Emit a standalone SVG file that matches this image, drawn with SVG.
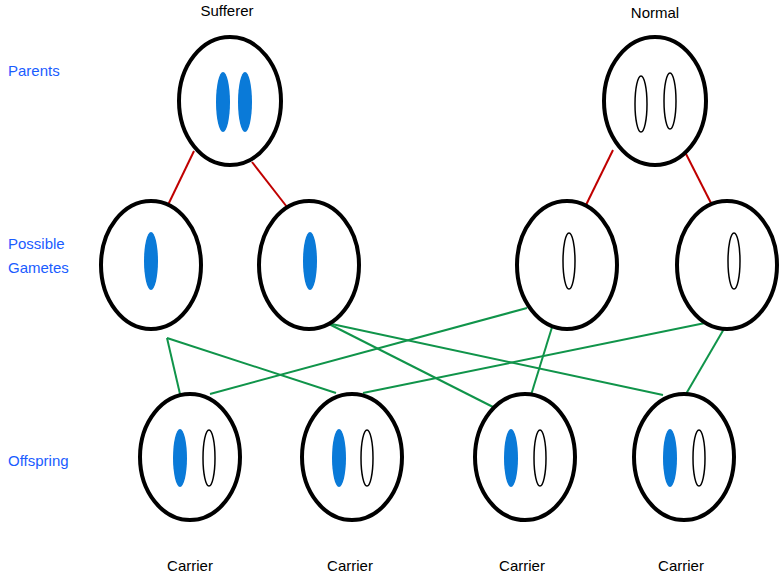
<svg xmlns="http://www.w3.org/2000/svg" width="781" height="577" viewBox="0 0 781 577">
<style>
.cell{fill:#fff;stroke:#000;stroke-width:4}
.b{fill:#0a7ad8;stroke:none}
.w{fill:#fff;stroke:#000;stroke-width:1.5}
.t{font-family:"Liberation Sans",sans-serif;font-size:15px;fill:#000}
.lab{font-family:"Liberation Sans",sans-serif;font-size:15px;fill:#1a5cff}
.red{stroke:#c00000;stroke-width:2}
.grn{stroke:#10944a;stroke-width:2}
</style>
<rect width="781" height="577" fill="#fff"/>
<g id="labels">
<text class="t" x="227" y="16" text-anchor="middle">Sufferer</text>
<text class="t" x="655" y="18" text-anchor="middle">Normal</text>
<text class="lab" x="8" y="76">Parents</text>
<text class="lab" x="8" y="249">Possible</text>
<text class="lab" x="8" y="273">Gametes</text>
<text class="lab" x="8" y="466">Offspring</text>
<text class="t" x="190" y="571" text-anchor="middle">Carrier</text>
<text class="t" x="350" y="571" text-anchor="middle">Carrier</text>
<text class="t" x="522" y="571" text-anchor="middle">Carrier</text>
<text class="t" x="681" y="571" text-anchor="middle">Carrier</text>
</g>
<g id="connectors">
<line class="red" x1="194" y1="151" x2="167" y2="207"/>
<line class="red" x1="252" y1="162" x2="287" y2="207"/>
<line class="red" x1="613" y1="150" x2="585" y2="207"/>
<line class="red" x1="684" y1="150" x2="713" y2="207"/>
<line class="grn" x1="167" y1="338" x2="180" y2="394"/>
<line class="grn" x1="167" y1="338" x2="336" y2="393"/>
<line class="grn" x1="327" y1="323" x2="497" y2="409"/>
<line class="grn" x1="327" y1="323" x2="663" y2="395"/>
<line class="grn" x1="527" y1="308" x2="210" y2="394"/>
<line class="grn" x1="553" y1="324" x2="527" y2="408"/>
<line class="grn" x1="710" y1="322" x2="363" y2="393"/>
<line class="grn" x1="728" y1="322" x2="686" y2="394"/>
</g>
<g id="parent-sufferer"><ellipse class="cell" cx="230" cy="101" rx="51" ry="64"/><ellipse class="b" cx="223" cy="102" rx="7" ry="30"/><ellipse class="b" cx="245" cy="102" rx="7" ry="30"/></g>
<g id="parent-normal"><ellipse class="cell" cx="655" cy="101" rx="51" ry="64"/><ellipse class="w" cx="641" cy="104" rx="6" ry="28"/><ellipse class="w" cx="670" cy="101" rx="6" ry="28"/></g>
<g id="gamete1"><ellipse class="cell" cx="151" cy="265" rx="50" ry="64"/><ellipse class="b" cx="151" cy="261" rx="7" ry="29"/></g>
<g id="gamete2"><ellipse class="cell" cx="309" cy="265" rx="50" ry="64"/><ellipse class="b" cx="310" cy="261" rx="7" ry="29"/></g>
<g id="gamete3"><ellipse class="cell" cx="567" cy="265" rx="50" ry="64"/><ellipse class="w" cx="569" cy="261" rx="6" ry="28"/></g>
<g id="gamete4"><ellipse class="cell" cx="727" cy="265" rx="50" ry="64"/><ellipse class="w" cx="734" cy="261" rx="6" ry="28"/></g>
<g id="offspring1"><ellipse class="cell" cx="190" cy="457" rx="50" ry="63"/><ellipse class="b" cx="180" cy="458" rx="7" ry="29"/><ellipse class="w" cx="209" cy="458" rx="6" ry="28"/></g>
<g id="offspring2"><ellipse class="cell" cx="352" cy="457" rx="50" ry="63"/><ellipse class="b" cx="339" cy="458" rx="7" ry="29"/><ellipse class="w" cx="367" cy="458" rx="6" ry="28"/></g>
<g id="offspring3"><ellipse class="cell" cx="525" cy="457" rx="50" ry="63"/><ellipse class="b" cx="511" cy="458" rx="7" ry="29"/><ellipse class="w" cx="540" cy="458" rx="6" ry="28"/></g>
<g id="offspring4"><ellipse class="cell" cx="684" cy="457" rx="50" ry="63"/><ellipse class="b" cx="670" cy="458" rx="7" ry="29"/><ellipse class="w" cx="699" cy="458" rx="6" ry="28"/></g>
</svg>
